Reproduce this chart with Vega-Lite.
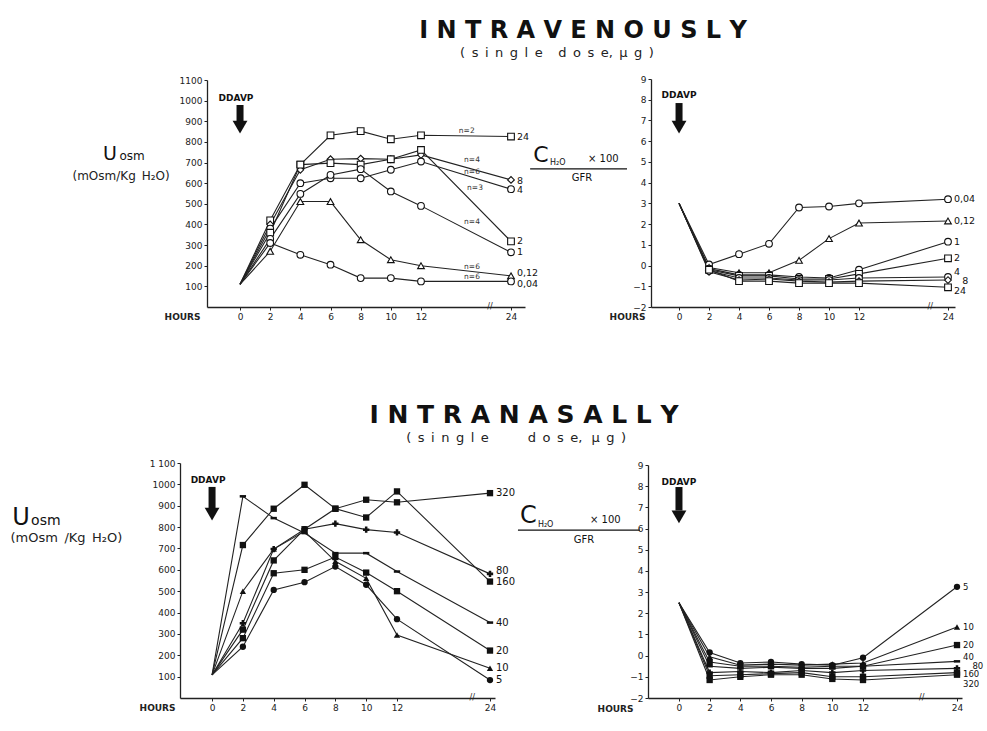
{
 "$schema": "https://vega.github.io/schema/vega-lite/v6.json",
 "background": "white",
 "padding": {"left": 10, "top": 19, "right": 5, "bottom": 5},
 "config": {
  "font": "DejaVu Sans",
  "view": {"stroke": null},
  "axis": {"grid": false, "domainColor": "#222", "domainWidth": 1.3, "tickColor": "#222", "tickSize": 3, "labelFontSize": 9, "labelColor": "#222", "labelPadding": 2, "labelOverlap": false, "labelFlush": false, "titleColor": "#222", "titleFontWeight": "normal"},
  "title": {"color": "#111", "subtitleColor": "#222"}
 },
 "datasets": {
  "iv_u": [
   {"dose":"24","hour":0,"value":110},{"dose":"24","hour":2,"value":420},{"dose":"24","hour":4,"value":690},{"dose":"24","hour":6,"value":832},{"dose":"24","hour":8,"value":852},{"dose":"24","hour":10,"value":813},{"dose":"24","hour":12,"value":832},{"dose":"24","hour":24,"value":826},
   {"dose":"8","hour":0,"value":110},{"dose":"8","hour":2,"value":400},{"dose":"8","hour":4,"value":665},{"dose":"8","hour":6,"value":716},{"dose":"8","hour":8,"value":719},{"dose":"8","hour":10,"value":716},{"dose":"8","hour":12,"value":737},{"dose":"8","hour":24,"value":616},
   {"dose":"4","hour":0,"value":110},{"dose":"4","hour":2,"value":380},{"dose":"4","hour":4,"value":600},{"dose":"4","hour":6,"value":624},{"dose":"4","hour":8,"value":624},{"dose":"4","hour":10,"value":665},{"dose":"4","hour":12,"value":705},{"dose":"4","hour":24,"value":571},
   {"dose":"2","hour":0,"value":110},{"dose":"2","hour":2,"value":360},{"dose":"2","hour":4,"value":690},{"dose":"2","hour":6,"value":697},{"dose":"2","hour":8,"value":690},{"dose":"2","hour":10,"value":716},{"dose":"2","hour":12,"value":761},{"dose":"2","hour":24,"value":318},
   {"dose":"1","hour":0,"value":110},{"dose":"1","hour":2,"value":330},{"dose":"1","hour":4,"value":548},{"dose":"1","hour":6,"value":640},{"dose":"1","hour":8,"value":668},{"dose":"1","hour":10,"value":560},{"dose":"1","hour":12,"value":490},{"dose":"1","hour":24,"value":265},
   {"dose":"0,12","hour":0,"value":110},{"dose":"0,12","hour":2,"value":270},{"dose":"0,12","hour":4,"value":511},{"dose":"0,12","hour":6,"value":511},{"dose":"0,12","hour":8,"value":326},{"dose":"0,12","hour":10,"value":229},{"dose":"0,12","hour":12,"value":200},{"dose":"0,12","hour":24,"value":151},
   {"dose":"0,04","hour":0,"value":110},{"dose":"0,04","hour":2,"value":310},{"dose":"0,04","hour":4,"value":253},{"dose":"0,04","hour":6,"value":205},{"dose":"0,04","hour":8,"value":140},{"dose":"0,04","hour":10,"value":140},{"dose":"0,04","hour":12,"value":124},{"dose":"0,04","hour":24,"value":124}
  ],
  "iv_c": [
   {"dose":"0,04","hour":0,"value":3},{"dose":"0,04","hour":2,"value":0.05},{"dose":"0,04","hour":4,"value":0.55},{"dose":"0,04","hour":6,"value":1.05},{"dose":"0,04","hour":8,"value":2.8},{"dose":"0,04","hour":10,"value":2.85},{"dose":"0,04","hour":12,"value":3.0},{"dose":"0,04","hour":24,"value":3.2},
   {"dose":"0,12","hour":0,"value":3},{"dose":"0,12","hour":2,"value":-0.1},{"dose":"0,12","hour":4,"value":-0.35},{"dose":"0,12","hour":6,"value":-0.35},{"dose":"0,12","hour":8,"value":0.25},{"dose":"0,12","hour":10,"value":1.3},{"dose":"0,12","hour":12,"value":2.05},{"dose":"0,12","hour":24,"value":2.15},
   {"dose":"1","hour":0,"value":3},{"dose":"1","hour":2,"value":-0.15},{"dose":"1","hour":4,"value":-0.45},{"dose":"1","hour":6,"value":-0.45},{"dose":"1","hour":8,"value":-0.55},{"dose":"1","hour":10,"value":-0.6},{"dose":"1","hour":12,"value":-0.2},{"dose":"1","hour":24,"value":1.15},
   {"dose":"2","hour":0,"value":3},{"dose":"2","hour":2,"value":-0.2},{"dose":"2","hour":4,"value":-0.5},{"dose":"2","hour":6,"value":-0.5},{"dose":"2","hour":8,"value":-0.65},{"dose":"2","hour":10,"value":-0.65},{"dose":"2","hour":12,"value":-0.4},{"dose":"2","hour":24,"value":0.35},
   {"dose":"4","hour":0,"value":3},{"dose":"4","hour":2,"value":-0.25},{"dose":"4","hour":4,"value":-0.6},{"dose":"4","hour":6,"value":-0.6},{"dose":"4","hour":8,"value":-0.7},{"dose":"4","hour":10,"value":-0.7},{"dose":"4","hour":12,"value":-0.6},{"dose":"4","hour":24,"value":-0.55},
   {"dose":"8","hour":0,"value":3},{"dose":"8","hour":2,"value":-0.3},{"dose":"8","hour":4,"value":-0.7},{"dose":"8","hour":6,"value":-0.65},{"dose":"8","hour":8,"value":-0.75},{"dose":"8","hour":10,"value":-0.8},{"dose":"8","hour":12,"value":-0.75},{"dose":"8","hour":24,"value":-0.7},
   {"dose":"24","hour":0,"value":3},{"dose":"24","hour":2,"value":-0.2},{"dose":"24","hour":4,"value":-0.75},{"dose":"24","hour":6,"value":-0.75},{"dose":"24","hour":8,"value":-0.85},{"dose":"24","hour":10,"value":-0.85},{"dose":"24","hour":12,"value":-0.85},{"dose":"24","hour":24,"value":-1.05}
  ],
  "in_u": [
   {"dose":"320","hour":0,"value":108},{"dose":"320","hour":2,"value":716},{"dose":"320","hour":4,"value":886},{"dose":"320","hour":6,"value":998},{"dose":"320","hour":8,"value":886},{"dose":"320","hour":10,"value":928},{"dose":"320","hour":12,"value":916},{"dose":"320","hour":24,"value":959},
   {"dose":"160","hour":0,"value":108},{"dose":"160","hour":2,"value":320},{"dose":"160","hour":4,"value":644},{"dose":"160","hour":6,"value":790},{"dose":"160","hour":8,"value":886},{"dose":"160","hour":10,"value":845},{"dose":"160","hour":12,"value":967},{"dose":"160","hour":24,"value":545},
   {"dose":"80","hour":0,"value":108},{"dose":"80","hour":2,"value":350},{"dose":"80","hour":4,"value":697},{"dose":"80","hour":6,"value":790},{"dose":"80","hour":8,"value":816},{"dose":"80","hour":10,"value":788},{"dose":"80","hour":12,"value":775},{"dose":"80","hour":24,"value":581},
   {"dose":"40","hour":0,"value":108},{"dose":"40","hour":2,"value":944},{"dose":"40","hour":4,"value":842},{"dose":"40","hour":6,"value":772},{"dose":"40","hour":8,"value":678},{"dose":"40","hour":10,"value":678},{"dose":"40","hour":12,"value":592},{"dose":"40","hour":24,"value":353},
   {"dose":"20","hour":0,"value":108},{"dose":"20","hour":2,"value":280},{"dose":"20","hour":4,"value":584},{"dose":"20","hour":6,"value":600},{"dose":"20","hour":8,"value":660},{"dose":"20","hour":10,"value":587},{"dose":"20","hour":12,"value":500},{"dose":"20","hour":24,"value":222},
   {"dose":"10","hour":0,"value":108},{"dose":"10","hour":2,"value":500},{"dose":"10","hour":4,"value":697},{"dose":"10","hour":6,"value":780},{"dose":"10","hour":8,"value":640},{"dose":"10","hour":10,"value":560},{"dose":"10","hour":12,"value":295},{"dose":"10","hour":24,"value":139},
   {"dose":"5","hour":0,"value":108},{"dose":"5","hour":2,"value":240},{"dose":"5","hour":4,"value":506},{"dose":"5","hour":6,"value":542},{"dose":"5","hour":8,"value":615},{"dose":"5","hour":10,"value":530},{"dose":"5","hour":12,"value":369},{"dose":"5","hour":24,"value":84}
  ],
  "in_c": [
   {"dose":"5","hour":0,"value":2.5},{"dose":"5","hour":2,"value":0.15},{"dose":"5","hour":4,"value":-0.35},{"dose":"5","hour":6,"value":-0.3},{"dose":"5","hour":8,"value":-0.4},{"dose":"5","hour":10,"value":-0.45},{"dose":"5","hour":12,"value":-0.1},{"dose":"5","hour":24,"value":3.25},
   {"dose":"10","hour":0,"value":2.5},{"dose":"10","hour":2,"value":-0.05},{"dose":"10","hour":4,"value":-0.45},{"dose":"10","hour":6,"value":-0.4},{"dose":"10","hour":8,"value":-0.45},{"dose":"10","hour":10,"value":-0.4},{"dose":"10","hour":12,"value":-0.35},{"dose":"10","hour":24,"value":1.35},
   {"dose":"20","hour":0,"value":2.5},{"dose":"20","hour":2,"value":-0.3},{"dose":"20","hour":4,"value":-0.5},{"dose":"20","hour":6,"value":-0.5},{"dose":"20","hour":8,"value":-0.55},{"dose":"20","hour":10,"value":-0.5},{"dose":"20","hour":12,"value":-0.5},{"dose":"20","hour":24,"value":0.5},
   {"dose":"40","hour":0,"value":2.5},{"dose":"40","hour":2,"value":-0.5},{"dose":"40","hour":4,"value":-0.6},{"dose":"40","hour":6,"value":-0.55},{"dose":"40","hour":8,"value":-0.6},{"dose":"40","hour":10,"value":-0.6},{"dose":"40","hour":12,"value":-0.5},{"dose":"40","hour":24,"value":-0.27},
   {"dose":"80","hour":0,"value":2.5},{"dose":"80","hour":2,"value":-0.8},{"dose":"80","hour":4,"value":-0.75},{"dose":"80","hour":6,"value":-0.8},{"dose":"80","hour":8,"value":-0.7},{"dose":"80","hour":10,"value":-0.8},{"dose":"80","hour":12,"value":-0.7},{"dose":"80","hour":24,"value":-0.6},
   {"dose":"160","hour":0,"value":2.5},{"dose":"160","hour":2,"value":-0.95},{"dose":"160","hour":4,"value":-0.9},{"dose":"160","hour":6,"value":-0.85},{"dose":"160","hour":8,"value":-0.8},{"dose":"160","hour":10,"value":-1.0},{"dose":"160","hour":12,"value":-1.0},{"dose":"160","hour":24,"value":-0.8},
   {"dose":"320","hour":0,"value":2.5},{"dose":"320","hour":2,"value":-1.15},{"dose":"320","hour":4,"value":-1.0},{"dose":"320","hour":6,"value":-0.9},{"dose":"320","hour":8,"value":-0.9},{"dose":"320","hour":10,"value":-1.1},{"dose":"320","hour":12,"value":-1.15},{"dose":"320","hour":24,"value":-0.9}
  ],
  "iv_u_lab": [
   {"hour":24,"value":826,"t":"24"},{"hour":24,"value":612,"t":"8"},{"hour":24,"value":567,"t":"4"},{"hour":24,"value":318,"t":"2"},{"hour":24,"value":265,"t":"1"},{"hour":24,"value":164,"t":"0,12"},{"hour":24,"value":113,"t":"0,04"}
  ],
  "iv_u_n": [
   {"hour":18.1,"value":853,"t":"n=2"},{"hour":18.8,"value":712,"t":"n=4"},{"hour":18.8,"value":654,"t":"n=6"},{"hour":19.2,"value":577,"t":"n=3"},{"hour":18.8,"value":412,"t":"n=4"},{"hour":18.8,"value":194,"t":"n=6"},{"hour":18.8,"value":145,"t":"n=6"}
  ],
  "iv_c_lab": [
   {"hour":24,"value":3.2,"t":"0,04"},{"hour":24,"value":2.15,"t":"0,12"},{"hour":24,"value":1.15,"t":"1"},{"hour":24,"value":0.35,"t":"2"},{"hour":24,"value":-0.3,"t":"4"},{"hour":25.1,"value":-0.75,"t":"8"},{"hour":24,"value":-1.25,"t":"24"}
  ],
  "in_u_lab": [
   {"hour":24,"value":959,"t":"320"},{"hour":24,"value":594,"t":"80"},{"hour":24,"value":544,"t":"160"},{"hour":24,"value":353,"t":"40"},{"hour":24,"value":222,"t":"20"},{"hour":24,"value":139,"t":"10"},{"hour":24,"value":84,"t":"5"}
  ],
  "in_c_lab": [
   {"hour":24,"value":3.25,"t":"5"},{"hour":24,"value":1.35,"t":"10"},{"hour":24,"value":0.5,"t":"20"},{"hour":24,"value":-0.08,"t":"40"},{"hour":25.2,"value":-0.48,"t":"80"},{"hour":24,"value":-0.88,"t":"160"},{"hour":24,"value":-1.32,"t":"320"}
  ]
 },
 "spacing": 148,
 "bounds": "flush",
 "resolve": {"scale": {"shape": "independent"}},
 "vconcat": [
  {
   "title": {"text": "I N T R A V E N O U S L Y", "subtitle": "(\u2002s\u2002i\u2002n\u2002g\u2002l\u2002e\u2003\u2009d\u2002o\u2002s\u2002e,\u2002µ\u2002g\u2002)\u2003\u2003\u2003\u2003\u200b", "anchor": "middle", "frame": "group", "dx": 3, "fontSize": 24, "fontWeight": "bold", "subtitleFontSize": 13, "subtitlePadding": 4, "offset": 10},
   "width": 800,
   "height": 237,
   "resolve": {"scale": {"x": "independent", "y": "independent"}, "axis": {"x": "independent", "y": "independent"}},
   "layer": [
    {
     "layer": [
      {"data": {"name": "iv_u"}, "mark": {"type": "line", "color": "#222", "strokeWidth": 1.1},
       "encoding": {
        "x": {"field": "hour", "type": "quantitative", "scale": {"domain": [-2.19, 12, 24, 25.87], "range": [27, 241, 331, 345], "nice": false, "zero": false},
              "axis": {"orient": "bottom", "values": [0,2,4,6,8,10,12,24], "tickCount": 20, "format": "d", "labelOverlap": false, "title": "HOURS", "titleX": 20, "titleY": 9, "titleAlign": "right", "titleBaseline": "middle", "titleFontSize": 9, "titleFontWeight": "bold"}},
        "y": {"field": "value", "type": "quantitative", "scale": {"domain": [0, 1100], "range": [237, 10], "nice": false, "zero": false},
              "axis": {"orient": "left", "offset": -27, "values": [100,200,300,400,500,600,700,800,900,1000,1100], "tickCount": 20, "format": "d", "labelOverlap": false, "title": "(mOsm/Kg\u2002H₂O)", "titleAngle": 0, "titleX": -135, "titleY": 105, "titleAlign": "left", "titleBaseline": "middle", "titleFontSize": 12}},
        "detail": {"field": "dose"}}},
      {"data": {"name": "iv_u"}, "transform": [{"filter": "datum.hour > 0"}],
       "mark": {"type": "point", "filled": true, "fill": "white", "stroke": "#111", "strokeWidth": 1.1, "size": 45, "opacity": 1},
       "encoding": {
        "x": {"field": "hour", "type": "quantitative"},
        "y": {"field": "value", "type": "quantitative"},
        "shape": {"field": "dose", "type": "nominal", "scale": {"domain": ["24","8","4","2","1","0,12","0,04"], "range": ["square","diamond","circle","square","circle","triangle-up","circle"]}, "legend": null}}},
      {"data": {"name": "iv_u_lab"}, "mark": {"type": "text", "align": "left", "dx": 6, "fontSize": 9.5, "color": "#111"},
       "encoding": {"x": {"field": "hour", "type": "quantitative"}, "y": {"field": "value", "type": "quantitative"}, "text": {"field": "t"}}},
      {"data": {"name": "iv_u_n"}, "mark": {"type": "text", "fontSize": 7.5, "color": "#333"},
       "encoding": {"x": {"field": "hour", "type": "quantitative"}, "y": {"field": "value", "type": "quantitative"}, "text": {"field": "t"}}},
      {"data": {"values": [{"hour": 0, "value": 1013, "t": "DDAVP"}]}, "mark": {"type": "text", "fontSize": 9, "fontWeight": "bold", "dx": -4, "color": "#111"},
       "encoding": {"x": {"field": "hour", "type": "quantitative"}, "y": {"field": "value", "type": "quantitative"}, "text": {"field": "t"}}},
      {"data": {"values": [{"hour": 0, "value": 979, "value2": 890}]}, "mark": {"type": "rule", "strokeWidth": 7, "color": "#111"},
       "encoding": {"x": {"field": "hour", "type": "quantitative"}, "y": {"field": "value", "type": "quantitative"}, "y2": {"field": "value2"}}},
      {"data": {"values": [{"hour": 0, "value": 872}]}, "mark": {"type": "point", "shape": "triangle-down", "filled": true, "color": "#111", "size": 220, "opacity": 1},
       "encoding": {"x": {"field": "hour", "type": "quantitative"}, "y": {"field": "value", "type": "quantitative"}}},
      {"data": {"values": [{"hour": -9.08, "value": 712, "t": "U"}]}, "mark": {"type": "text", "align": "left", "baseline": "alphabetic", "fontSize": 19, "color": "#111"},
       "encoding": {"x": {"field": "hour", "type": "quantitative"}, "y": {"field": "value", "type": "quantitative"}, "text": {"field": "t"}}},
      {"data": {"values": [{"hour": -8.0, "value": 712, "t": "osm"}]}, "mark": {"type": "text", "align": "left", "baseline": "alphabetic", "fontSize": 12, "color": "#111"},
       "encoding": {"x": {"field": "hour", "type": "quantitative"}, "y": {"field": "value", "type": "quantitative"}, "text": {"field": "t"}}},
      {"data": {"values": [{"hour": 21.2, "value": 0, "t": "//"}]}, "mark": {"type": "text", "fontSize": 8, "color": "#222"},
       "encoding": {"x": {"field": "hour", "type": "quantitative"}, "y": {"field": "value", "type": "quantitative"}, "text": {"field": "t"}}}
     ]
    },
    {
     "layer": [
      {"data": {"name": "iv_c"}, "mark": {"type": "line", "color": "#222", "strokeWidth": 1.1},
       "encoding": {
        "x": {"field": "hour", "type": "quantitative", "scale": {"domain": [-1.87, 12, 24, 24.94], "range": [471, 679, 768, 775], "nice": false, "zero": false},
              "axis": {"orient": "bottom", "values": [0,2,4,6,8,10,12,24], "tickCount": 20, "format": "d", "labelOverlap": false, "title": "HOURS", "titleX": 465, "titleY": 9, "titleAlign": "right", "titleBaseline": "middle", "titleFontSize": 9, "titleFontWeight": "bold"}},
        "y": {"field": "value", "type": "quantitative", "scale": {"domain": [-2, 9], "range": [237, 9], "nice": false, "zero": false},
              "axis": {"orient": "left", "offset": -471, "values": [-2,-1,0,1,2,3,4,5,6,7,8,9], "tickCount": 20, "format": "d", "labelOverlap": false, "title": null}},
        "detail": {"field": "dose"}}},
      {"data": {"name": "iv_c"}, "transform": [{"filter": "datum.hour > 0"}],
       "mark": {"type": "point", "filled": true, "fill": "white", "stroke": "#111", "strokeWidth": 1.1, "size": 45, "opacity": 1},
       "encoding": {
        "x": {"field": "hour", "type": "quantitative"},
        "y": {"field": "value", "type": "quantitative"},
        "shape": {"field": "dose", "type": "nominal", "legend": null}}},
      {"data": {"name": "iv_c_lab"}, "mark": {"type": "text", "align": "left", "dx": 6, "fontSize": 9.5, "color": "#111"},
       "encoding": {"x": {"field": "hour", "type": "quantitative"}, "y": {"field": "value", "type": "quantitative"}, "text": {"field": "t"}}},
      {"data": {"values": [{"hour": 0, "value": 8.23, "t": "DDAVP"}]}, "mark": {"type": "text", "fontSize": 9, "fontWeight": "bold", "color": "#111"},
       "encoding": {"x": {"field": "hour", "type": "quantitative"}, "y": {"field": "value", "type": "quantitative"}, "text": {"field": "t"}}},
      {"data": {"values": [{"hour": 0, "value": 7.84, "value2": 6.95}]}, "mark": {"type": "rule", "strokeWidth": 7, "color": "#111"},
       "encoding": {"x": {"field": "hour", "type": "quantitative"}, "y": {"field": "value", "type": "quantitative"}, "y2": {"field": "value2"}}},
      {"data": {"values": [{"hour": 0, "value": 6.68}]}, "mark": {"type": "point", "shape": "triangle-down", "filled": true, "color": "#111", "size": 220, "opacity": 1},
       "encoding": {"x": {"field": "hour", "type": "quantitative"}, "y": {"field": "value", "type": "quantitative"}}},
      {"data": {"values": [{"hour": -9.73, "value": 5.0, "t": "C"}]}, "mark": {"type": "text", "align": "left", "baseline": "alphabetic", "fontSize": 22, "color": "#111"},
       "encoding": {"x": {"field": "hour", "type": "quantitative"}, "y": {"field": "value", "type": "quantitative"}, "text": {"field": "t"}}},
      {"data": {"values": [{"hour": -8.6, "value": 4.85, "t": "H₂O"}]}, "mark": {"type": "text", "align": "left", "baseline": "alphabetic", "fontSize": 8, "color": "#111"},
       "encoding": {"x": {"field": "hour", "type": "quantitative"}, "y": {"field": "value", "type": "quantitative"}, "text": {"field": "t"}}},
      {"data": {"values": [{"hour": -6.07, "value": 5.0, "t": "× 100"}]}, "mark": {"type": "text", "align": "left", "baseline": "alphabetic", "fontSize": 10, "color": "#111"},
       "encoding": {"x": {"field": "hour", "type": "quantitative"}, "y": {"field": "value", "type": "quantitative"}, "text": {"field": "t"}}},
      {"data": {"values": [{"hour": -9.93, "hour2": -3.47, "value": 4.66}]}, "mark": {"type": "rule", "strokeWidth": 1.2, "color": "#111"},
       "encoding": {"x": {"field": "hour", "type": "quantitative"}, "x2": {"field": "hour2"}, "y": {"field": "value", "type": "quantitative"}}},
      {"data": {"values": [{"hour": -6.47, "value": 4.08, "t": "GFR"}]}, "mark": {"type": "text", "align": "center", "baseline": "alphabetic", "fontSize": 10, "color": "#111"},
       "encoding": {"x": {"field": "hour", "type": "quantitative"}, "y": {"field": "value", "type": "quantitative"}, "text": {"field": "t"}}},
      {"data": {"values": [{"hour": 21.6, "value": -2, "t": "//"}]}, "mark": {"type": "text", "fontSize": 8, "color": "#222"},
       "encoding": {"x": {"field": "hour", "type": "quantitative"}, "y": {"field": "value", "type": "quantitative"}, "text": {"field": "t"}}}
     ]
    }
   ]
  },
  {
   "title": {"text": "I N T R A N A S A L L Y", "subtitle": "(\u2002s\u2002i\u2002n\u2002g\u2002l\u2002e\u2003\u2003\u2003d\u2002o\u2002s\u2002e,\u2002\u2009µ\u2002g\u2002)\u2003\u2009\u200b", "anchor": "middle", "frame": "group", "dx": -56, "fontSize": 25, "fontWeight": "bold", "subtitleFontSize": 13, "subtitlePadding": 4, "offset": 10},
   "width": 800,
   "height": 243,
   "resolve": {"scale": {"x": "independent", "y": "independent"}, "axis": {"x": "independent", "y": "independent"}},
   "layer": [
    {
     "layer": [
      {"data": {"name": "in_u"}, "mark": {"type": "line", "color": "#222", "strokeWidth": 1.1},
       "encoding": {
        "x": {"field": "hour", "type": "quantitative", "scale": {"domain": [-2.08, 12, 24, 24.65], "range": [0, 217, 310, 315], "nice": false, "zero": false},
              "axis": {"orient": "bottom", "values": [0,2,4,6,8,10,12,24], "tickCount": 20, "format": "d", "labelOverlap": false, "title": "HOURS", "titleX": -5, "titleY": 9, "titleAlign": "right", "titleBaseline": "middle", "titleFontSize": 9, "titleFontWeight": "bold"}},
        "y": {"field": "value", "type": "quantitative", "scale": {"domain": [0, 1100], "range": [243, 8], "nice": false, "zero": false},
              "axis": {"orient": "left", "values": [100,200,300,400,500,600,700,800,900,1000,1100], "tickCount": 20, "format": "d", "labelOverlap": false, "labelExpr": "datum.value == 1100 ? '1 100' : datum.label", "title": "(mOsm\u2002/Kg\u2002H₂O)", "titleAngle": 0, "titleX": -170, "titleY": 82, "titleAlign": "left", "titleBaseline": "middle", "titleFontSize": 13}},
        "detail": {"field": "dose"}}},
      {"data": {"name": "in_u"}, "transform": [{"filter": "datum.hour > 0"}],
       "mark": {"type": "point", "filled": true, "color": "#111", "size": 40, "opacity": 1},
       "encoding": {
        "x": {"field": "hour", "type": "quantitative"},
        "y": {"field": "value", "type": "quantitative"},
        "shape": {"field": "dose", "type": "nominal", "scale": {"domain": ["320","160","80","40","20","10","5"], "range": ["square","square","cross","M-1,-0.4L1,-0.4L1,0.4L-1,0.4Z","square","triangle-up","circle"]}, "legend": null}}},
      {"data": {"name": "in_u_lab"}, "mark": {"type": "text", "align": "left", "dx": 6, "fontSize": 10, "color": "#111"},
       "encoding": {"x": {"field": "hour", "type": "quantitative"}, "y": {"field": "value", "type": "quantitative"}, "text": {"field": "t"}}},
      {"data": {"values": [{"hour": 0, "value": 1020, "t": "DDAVP"}]}, "mark": {"type": "text", "fontSize": 9, "fontWeight": "bold", "dx": -4, "color": "#111"},
       "encoding": {"x": {"field": "hour", "type": "quantitative"}, "y": {"field": "value", "type": "quantitative"}, "text": {"field": "t"}}},
      {"data": {"values": [{"hour": 0, "value": 988, "value2": 885}]}, "mark": {"type": "rule", "strokeWidth": 7, "color": "#111"},
       "encoding": {"x": {"field": "hour", "type": "quantitative"}, "y": {"field": "value", "type": "quantitative"}, "y2": {"field": "value2"}}},
      {"data": {"values": [{"hour": 0, "value": 861}]}, "mark": {"type": "point", "shape": "triangle-down", "filled": true, "color": "#111", "size": 220, "opacity": 1},
       "encoding": {"x": {"field": "hour", "type": "quantitative"}, "y": {"field": "value", "type": "quantitative"}}},
      {"data": {"values": [{"hour": -12.97, "value": 810, "t": "U"}]}, "mark": {"type": "text", "align": "left", "baseline": "alphabetic", "fontSize": 24, "color": "#111"},
       "encoding": {"x": {"field": "hour", "type": "quantitative"}, "y": {"field": "value", "type": "quantitative"}, "text": {"field": "t"}}},
      {"data": {"values": [{"hour": -11.74, "value": 810, "t": "osm"}]}, "mark": {"type": "text", "align": "left", "baseline": "alphabetic", "fontSize": 14, "color": "#111"},
       "encoding": {"x": {"field": "hour", "type": "quantitative"}, "y": {"field": "value", "type": "quantitative"}, "text": {"field": "t"}}},
      {"data": {"values": [{"hour": 21.7, "value": 0, "t": "//"}]}, "mark": {"type": "text", "fontSize": 8, "color": "#222"},
       "encoding": {"x": {"field": "hour", "type": "quantitative"}, "y": {"field": "value", "type": "quantitative"}, "text": {"field": "t"}}}
     ]
    },
    {
     "layer": [
      {"data": {"name": "in_c"}, "mark": {"type": "line", "color": "#222", "strokeWidth": 1.1},
       "encoding": {
        "x": {"field": "hour", "type": "quantitative", "scale": {"domain": [-2.02, 12, 24, 24.64], "range": [468, 683, 777, 782], "nice": false, "zero": false},
              "axis": {"orient": "bottom", "values": [0,2,4,6,8,10,12,24], "tickCount": 20, "format": "d", "labelOverlap": false, "title": "HOURS", "titleX": 453, "titleY": 10, "titleAlign": "right", "titleBaseline": "middle", "titleFontSize": 9, "titleFontWeight": "bold"}},
        "y": {"field": "value", "type": "quantitative", "scale": {"domain": [-2, 9], "range": [243, 10], "nice": false, "zero": false},
              "axis": {"orient": "left", "offset": -468, "values": [-2,-1,0,1,2,3,4,5,6,7,8,9], "tickCount": 20, "format": "d", "labelOverlap": false, "title": null}},
        "detail": {"field": "dose"}}},
      {"data": {"name": "in_c"}, "transform": [{"filter": "datum.hour > 0"}],
       "mark": {"type": "point", "filled": true, "color": "#111", "size": 40, "opacity": 1},
       "encoding": {
        "x": {"field": "hour", "type": "quantitative"},
        "y": {"field": "value", "type": "quantitative"},
        "shape": {"field": "dose", "type": "nominal", "legend": null}}},
      {"data": {"name": "in_c_lab"}, "mark": {"type": "text", "align": "left", "dx": 6, "fontSize": 8.5, "color": "#111"},
       "encoding": {"x": {"field": "hour", "type": "quantitative"}, "y": {"field": "value", "type": "quantitative"}, "text": {"field": "t"}}},
      {"data": {"values": [{"hour": 0, "value": 8.2, "t": "DDAVP"}]}, "mark": {"type": "text", "fontSize": 9, "fontWeight": "bold", "color": "#111"},
       "encoding": {"x": {"field": "hour", "type": "quantitative"}, "y": {"field": "value", "type": "quantitative"}, "text": {"field": "t"}}},
      {"data": {"values": [{"hour": 0, "value": 7.96, "value2": 6.85}]}, "mark": {"type": "rule", "strokeWidth": 7, "color": "#111"},
       "encoding": {"x": {"field": "hour", "type": "quantitative"}, "y": {"field": "value", "type": "quantitative"}, "y2": {"field": "value2"}}},
      {"data": {"values": [{"hour": 0, "value": 6.55}]}, "mark": {"type": "point", "shape": "triangle-down", "filled": true, "color": "#111", "size": 220, "opacity": 1},
       "encoding": {"x": {"field": "hour", "type": "quantitative"}, "y": {"field": "value", "type": "quantitative"}}},
      {"data": {"values": [{"hour": -10.37, "value": 6.26, "t": "C"}]}, "mark": {"type": "text", "align": "left", "baseline": "alphabetic", "fontSize": 24, "color": "#111"},
       "encoding": {"x": {"field": "hour", "type": "quantitative"}, "y": {"field": "value", "type": "quantitative"}, "text": {"field": "t"}}},
      {"data": {"values": [{"hour": -9.2, "value": 6.07, "t": "H₂O"}]}, "mark": {"type": "text", "align": "left", "baseline": "alphabetic", "fontSize": 8, "color": "#111"},
       "encoding": {"x": {"field": "hour", "type": "quantitative"}, "y": {"field": "value", "type": "quantitative"}, "text": {"field": "t"}}},
      {"data": {"values": [{"hour": -5.8, "value": 6.26, "t": "× 100"}]}, "mark": {"type": "text", "align": "left", "baseline": "alphabetic", "fontSize": 10, "color": "#111"},
       "encoding": {"x": {"field": "hour", "type": "quantitative"}, "y": {"field": "value", "type": "quantitative"}, "text": {"field": "t"}}},
      {"data": {"values": [{"hour": -10.5, "hour2": -2.54, "value": 5.93}]}, "mark": {"type": "rule", "strokeWidth": 1.2, "color": "#111"},
       "encoding": {"x": {"field": "hour", "type": "quantitative"}, "x2": {"field": "hour2"}, "y": {"field": "value", "type": "quantitative"}}},
      {"data": {"values": [{"hour": -6.2, "value": 5.32, "t": "GFR"}]}, "mark": {"type": "text", "align": "center", "baseline": "alphabetic", "fontSize": 10, "color": "#111"},
       "encoding": {"x": {"field": "hour", "type": "quantitative"}, "y": {"field": "value", "type": "quantitative"}, "text": {"field": "t"}}},
      {"data": {"values": [{"hour": 19.5, "value": -2, "t": "//"}]}, "mark": {"type": "text", "fontSize": 8, "color": "#222"},
       "encoding": {"x": {"field": "hour", "type": "quantitative"}, "y": {"field": "value", "type": "quantitative"}, "text": {"field": "t"}}}
     ]
    }
   ]
  }
 ]
}
